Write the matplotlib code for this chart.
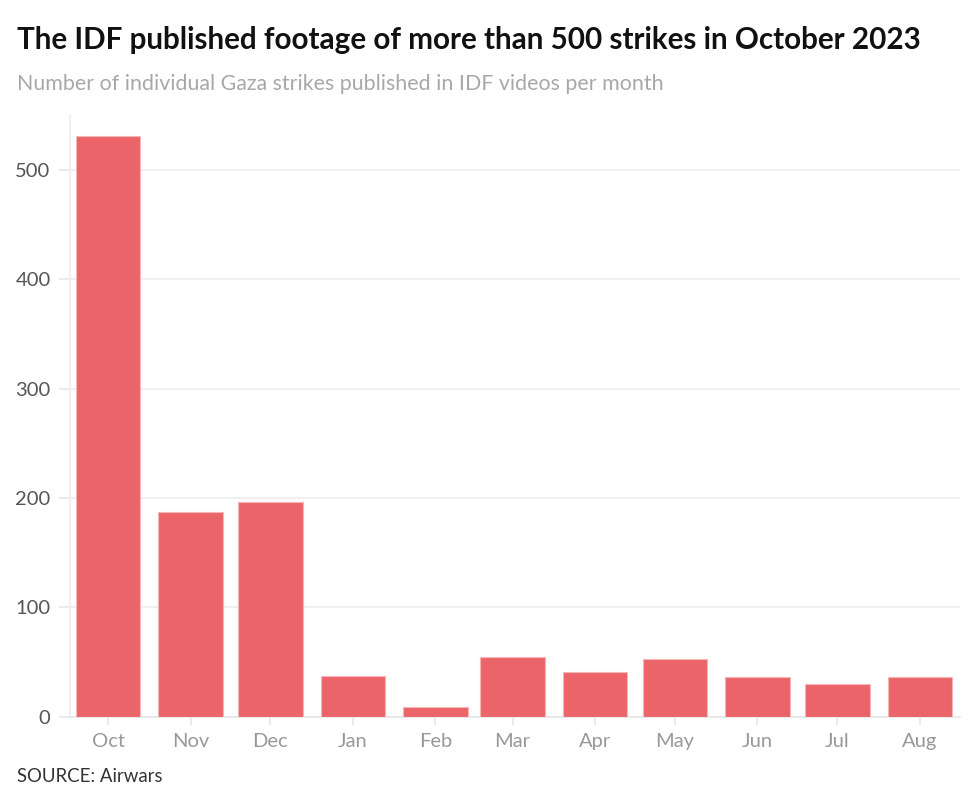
import datetime as dt
import matplotlib
matplotlib.use("Agg")
import matplotlib.pyplot as plt
import matplotlib.dates as mdates

# Strikes per month (Oct 2023 - Aug 2024)
months = ["Oct", "Nov", "Dec", "Jan", "Feb", "Mar", "Apr", "May", "Jun", "Jul", "Aug"]
month_starts = [dt.date(2023, 10, 1), dt.date(2023, 11, 1), dt.date(2023, 12, 1),
                dt.date(2024, 1, 1), dt.date(2024, 2, 1), dt.date(2024, 3, 1),
                dt.date(2024, 4, 1), dt.date(2024, 5, 1), dt.date(2024, 6, 1),
                dt.date(2024, 7, 1), dt.date(2024, 8, 1)]
strikes = [531, 187, 196, 37, 9, 55, 41, 53, 36, 30, 36]
yticks = [0, 100, 200, 300, 400, 500]

plt.rcParams['font.family'] = ['Lato', 'DejaVu Sans']

fig = plt.figure(figsize=(9.8, 8.01), dpi=100)
ax = fig.add_axes([70/980, 1 - 716.7/801, 890/980, (716.7 - 115)/801])

# bars sit in the middle of each month, time-proportional spacing
centers = [mdates.date2num(d) + 15 for d in month_starts]
ax.bar(centers, strikes, width=24.2, color='#EB6469', edgecolor='#F7B5B7',
       linewidth=0.8, zorder=3)

ax.set_xlim(centers[0] - 14.3, centers[-1] + 15.1)
ax.set_ylim(0, 550)
ax.set_xticks(centers)
ax.set_xticklabels(months)
ax.set_yticks(yticks)

ax.grid(axis='y', color='#EEEEEE', linewidth=1.2, zorder=0)
for s in ['top', 'right']:
    ax.spines[s].set_visible(False)
ax.spines['left'].set_color('#EEEEEE')
ax.spines['bottom'].set_color('#E6E6E6')
ax.spines['left'].set_linewidth(1.2)
ax.spines['bottom'].set_linewidth(1.2)

ax.tick_params(axis='y', length=8, width=1.2, color='#E6E6E6', pad=6,
               labelsize=14.5, labelcolor='#555555')
ax.tick_params(axis='x', length=6, width=1.2, color='#E6E6E6', pad=6,
               labelsize=14.5, labelcolor='#999999')

fig.text(17/980, 1 - 40/801, "The IDF published footage of more than 500 strikes in October 2023",
         fontsize=21.3, fontweight='bold', color='#111111', va='center', ha='left')
fig.text(17/980, 1 - 84/801, "Number of individual Gaza strikes published in IDF videos per month",
         fontsize=15.4, color='#A8A8A8', va='center', ha='left')
fig.text(17/980, 1 - 776/801, "SOURCE: Airwars",
         fontsize=13.4, color='#333333', va='center', ha='left')

fig.savefig("out.png", dpi=100)
plt.close(fig)
